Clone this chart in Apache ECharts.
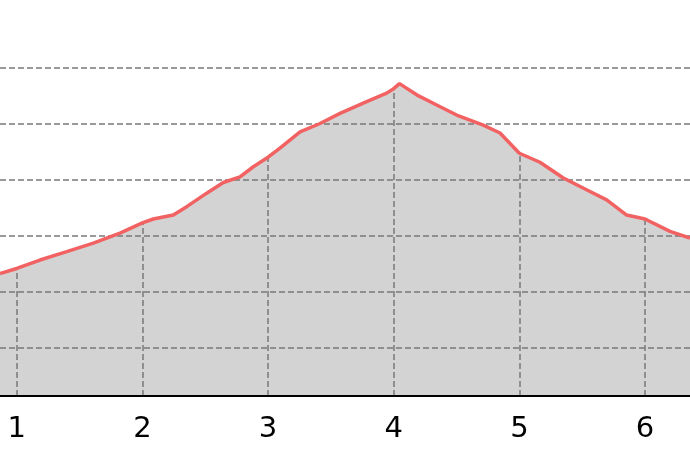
<!DOCTYPE html>
<html>
<head>
<meta charset="utf-8">
<script src="https://cdn.jsdelivr.net/npm/echarts@6/dist/echarts.min.js"></script>
<style>
    html, body { margin: 0; padding: 0; background: #fff; }
    #main { width: 690px; height: 460px; }
</style>
</head>
<body>
<div id="main"></div>
<script>
// curve samples: x positions and heights
var xs = [0.867, 1.0, 1.185, 1.398, 1.61, 1.822, 2.0, 2.087, 2.246, 2.353, 2.512, 2.644, 2.777, 2.883,
    3.0, 3.095, 3.255, 3.414, 3.573, 3.785, 3.944, 4.0, 4.046, 4.183, 4.342, 4.501, 4.713, 4.846,
    5.0, 5.164, 5.35, 5.562, 5.695, 5.854, 6.0, 6.199, 6.358];
var ys = [2.33, 2.42, 2.57, 2.72, 2.87, 3.05, 3.23, 3.30, 3.37, 3.52, 3.76, 3.95, 4.05, 4.23,
    4.40, 4.56, 4.85, 5.00, 5.18, 5.39, 5.54, 5.62, 5.71, 5.51, 5.33, 5.15, 4.97, 4.83,
    4.47, 4.31, 4.03, 3.79, 3.64, 3.37, 3.30, 3.08, 2.96];
var xTicks = [1, 2, 3, 4, 5, 6];

var xMin = 0.867, xMax = 6.358;
var yMin = 0.15, yMax = 6;

var gridColor = '#7a7a7a';

~function () {
    var myChart = echarts.init(document.getElementById('main'));

    var points = xs.map(function (x, i) { return [x, ys[i]]; });

    // dashed drop lines from the axis up to the curve at every x tick
    var drops = xTicks.map(function (t) {
        var i = xs.indexOf(t);
        return [{coord: [t, yMin]}, {coord: [t, ys[i]]}];
    });

    var option = {
        animation: false,
        grid: {left: 0, right: 0, top: 67.3, bottom: 64, containLabel: false, outerBoundsMode: 'none'},
        xAxis: {
            type: 'value',
            min: xMin,
            max: xMax,
            splitNumber: 5,
            z: 6,
            axisLine: {onZero: false, lineStyle: {color: '#000', width: 2}},
            axisTick: {show: false},
            splitLine: {show: false},
            axisLabel: {
                color: '#000',
                fontFamily: 'DejaVu Sans',
                fontSize: 29,
                margin: 19,
                showMinLabel: false,
                showMaxLabel: false,
                formatter: function (v) {
                    return xTicks.indexOf(v) >= 0 ? String(v) : '';
                }
            }
        },
        yAxis: {
            type: 'value',
            min: yMin,
            max: yMax,
            splitNumber: 6,
            z: 3,
            axisLine: {show: false},
            axisTick: {show: false},
            axisLabel: {show: false},
            splitLine: {lineStyle: {color: gridColor, width: 1.5, type: [6, 3]}}
        },
        series: [
            {
                type: 'line',
                z: 1,
                data: points,
                symbol: 'none',
                lineStyle: {width: 0},
                areaStyle: {color: '#d3d3d3', opacity: 1},
                markLine: {
                    silent: true,
                    symbol: 'none',
                    label: {show: false},
                    lineStyle: {color: gridColor, width: 1.5, type: [6, 3]},
                    data: drops
                }
            },
            {
                type: 'line',
                z: 5,
                data: points,
                symbol: 'none',
                lineStyle: {color: '#f26262', width: 3.5}
            }
        ]
    };
    myChart.setOption(option);
}();
</script>
</body>
</html>
